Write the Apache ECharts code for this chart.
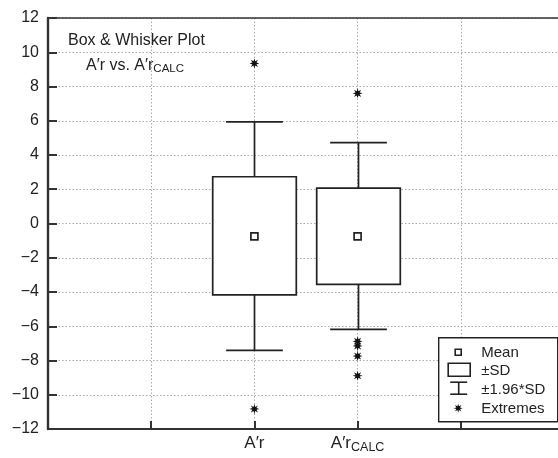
<!DOCTYPE html>
<html>
<head>
<meta charset="utf-8">
<script src="https://cdn.jsdelivr.net/npm/echarts@6/dist/echarts.min.js"></script>
<style>
  html, body { margin: 0; padding: 0; background: #fff; }
  #chart { width: 558px; height: 458px; }
</style>
</head>
<body>
<div id="chart"></div>
<script>
// Category slots along the x axis; the two variables sit on slots 2 and 3.
const categories = ['', '', 'Ar', 'ArCALC', '', ''];
const variableSlots = [2, 3];

// Per-variable summary statistics
const means = [-0.75, -0.75];
const sdLow = [-4.17, -3.55];      // mean - SD
const sdHigh = [2.73, 2.07];       // mean + SD
const ciLow = [-7.41, -6.18];      // mean - 1.96*SD
const ciHigh = [5.93, 4.72];       // mean + 1.96*SD

// Extreme observations per variable
const extremesAr = [9.35, -10.83];
const extremesCalc = [7.6, -6.88, -7.15, -7.74, -8.89];

// Y axis ticks
const yMin = -12, yMax = 12, yStep = 2;

const FONT = '"Liberation Sans", Arial, sans-serif';
const INK = '#222';

// 8-pointed asterisk used for the extreme values
function starPoints(points, rOut, rIn) {
  const pts = [];
  for (let i = 0; i < points * 2; i++) {
    const r = i % 2 === 0 ? rOut : rIn;
    const a = Math.PI * i / points - Math.PI / 2;
    pts.push([r * Math.cos(a), r * Math.sin(a)]);
  }
  return pts;
}
const STAR_PTS = starPoints(8, 10, 4.5);
const STAR = 'path://' + STAR_PTS.map((p, i) => (i ? 'L' : 'M') + p[0].toFixed(3) + ' ' + p[1].toFixed(3)).join(' ') + ' Z';

const boxData = variableSlots.map((s, i) => [s, ciLow[i], sdLow[i], sdHigh[i], ciHigh[i]]);
const meanData = variableSlots.map((s, i) => [s, means[i]]);
const extremeData = extremesAr.map(v => [variableSlots[0], v])
  .concat(extremesCalc.map(v => [variableSlots[1], v]));

function renderBox(params, api) {
  const x = api.value(0);
  const unit = api.size([1, 0])[0];
  const boxW = unit * 0.81;
  const capW = unit * 0.55;
  const pWL = api.coord([x, api.value(1)]);
  const pBL = api.coord([x, api.value(2)]);
  const pBH = api.coord([x, api.value(3)]);
  const pWH = api.coord([x, api.value(4)]);
  const cx = Math.round(pWL[0]) + 0.5;
  const st = { stroke: INK, lineWidth: 1.7, fill: null };
  return {
    type: 'group',
    children: [
      { type: 'line', shape: { x1: cx, y1: pWH[1], x2: cx, y2: pBH[1] }, style: st },
      { type: 'line', shape: { x1: cx, y1: pBL[1], x2: cx, y2: pWL[1] }, style: st },
      { type: 'line', shape: { x1: cx - capW / 2, y1: pWH[1], x2: cx + capW / 2, y2: pWH[1] }, style: st },
      { type: 'line', shape: { x1: cx - capW / 2, y1: pWL[1], x2: cx + capW / 2, y2: pWL[1] }, style: st },
      { type: 'rect', shape: { x: cx - boxW / 2, y: pBH[1], width: boxW, height: pBL[1] - pBH[1] },
        style: { stroke: INK, lineWidth: 1.7, fill: '#fff' } }
    ]
  };
}

const chart = echarts.init(document.getElementById('chart'), null, { renderer: 'canvas' });

const gridDotted = { show: true, lineStyle: { color: '#aaa', type: [1.5, 2], width: 1 } };

const option = {
  animation: false,
  backgroundColor: '#fff',
  grid: { left: 48, top: 18, right: -6, height: 411, containLabel: false, outerBoundsMode: 'none' },
  xAxis: [{
    type: 'category',
    data: categories,
    boundaryGap: false,
    axisLine: { show: true, onZero: false, lineStyle: { color: '#333', width: 2 } },
    axisTick: { show: true, inside: true, length: 8, interval: 0, lineStyle: { color: '#333', width: 2 } },
    splitLine: Object.assign({ interval: 0 }, gridDotted),
    axisLabel: {
      interval: 0,
      margin: 4,
      formatter: function (v) {
        if (v === 'Ar') return '{m|A′r}';
        if (v === 'ArCALC') return '{m|A′r}{s|CALC}';
        return '';
      },
      rich: {
        m: { fontFamily: FONT, fontSize: 17, color: INK, lineHeight: 20 },
        s: { fontFamily: FONT, fontSize: 12.5, color: INK, padding: [9, 0, 0, 0], lineHeight: 20 }
      }
    }
  }, {
    type: 'category',
    data: categories,
    position: 'top',
    boundaryGap: false,
    axisLine: { show: true, onZero: false, lineStyle: { color: '#333', width: 1.6 } },
    axisTick: { show: false },
    axisLabel: { show: false },
    splitLine: { show: false }
  }],
  yAxis: {
    type: 'value',
    min: yMin,
    max: yMax,
    interval: yStep,
    axisLine: { show: true, lineStyle: { color: '#333', width: 2.4 } },
    axisTick: { show: true, inside: true, length: 9, lineStyle: { color: '#333', width: 2 } },
    splitLine: gridDotted,
    axisLabel: {
      margin: 9,
      fontFamily: FONT,
      fontSize: 16,
      color: INK,
      formatter: v => String(v).replace('-', '−')
    }
  },
  series: [
    {
      type: 'custom',
      name: 'box',
      renderItem: renderBox,
      data: boxData,
      encode: { x: 0, y: [1, 2, 3, 4] },
      z: 2
    },
    {
      type: 'scatter',
      name: 'Mean',
      data: meanData,
      symbol: 'rect',
      symbolSize: 7,
      itemStyle: { color: '#fff', borderColor: INK, borderWidth: 1.7, opacity: 1 },
      z: 5
    },
    {
      type: 'scatter',
      name: 'Extremes',
      data: extremeData,
      symbol: STAR,
      symbolSize: 10,
      itemStyle: { color: '#111', opacity: 1 },
      z: 5
    }
  ],
  graphic: [
    // Plot title
    {
      type: 'text', left: 68, top: 33,
      style: { text: 'Box & Whisker Plot', font: '16px ' + FONT, fill: INK }
    },
    {
      type: 'text', left: 86, top: 56,
      style: {
        text: '{m|A′r vs. A′r}{s|CALC}',
        rich: {
          m: { font: '16px ' + FONT, fill: INK, lineHeight: 18 },
          s: { font: '11.5px ' + FONT, fill: INK, padding: [7, 0, 0, 0], lineHeight: 18 }
        }
      }
    },
    // Legend
    {
      type: 'group', left: 438, top: 337,
      children: [
        { type: 'rect', shape: { x: 0.5, y: 0.5, width: 119, height: 84 },
          style: { fill: '#fff', stroke: INK, lineWidth: 1.4 }, z: 10 },
        { type: 'rect', shape: { x: 17, y: 12, width: 6, height: 6 },
          style: { fill: '#fff', stroke: INK, lineWidth: 1.6 }, z: 11 },
        { type: 'text', x: 43, y: 15.5, style: { text: 'Mean', font: '15px ' + FONT, fill: INK, verticalAlign: 'middle' }, z: 11 },
        { type: 'rect', shape: { x: 10, y: 26, width: 22, height: 13 },
          style: { fill: '#fff', stroke: INK, lineWidth: 1.6 }, z: 11 },
        { type: 'text', x: 43, y: 34, style: { text: '±SD', font: '15px ' + FONT, fill: INK, verticalAlign: 'middle' }, z: 11 },
        { type: 'line', shape: { x1: 12, y1: 45, x2: 29, y2: 45 }, style: { stroke: INK, lineWidth: 1.6 }, z: 11 },
        { type: 'line', shape: { x1: 20.5, y1: 45, x2: 20.5, y2: 57 }, style: { stroke: INK, lineWidth: 1.6 }, z: 11 },
        { type: 'line', shape: { x1: 12, y1: 57, x2: 29, y2: 57 }, style: { stroke: INK, lineWidth: 1.6 }, z: 11 },
        { type: 'text', x: 43, y: 53, style: { text: '±1.96*SD', font: '15px ' + FONT, fill: INK, verticalAlign: 'middle' }, z: 11 },
        { type: 'polygon', shape: { points: STAR_PTS.map(p => [20 + p[0] * 0.45, 71 + p[1] * 0.45]) },
          style: { fill: '#111' }, z: 11 },
        { type: 'text', x: 43, y: 72, style: { text: 'Extremes', font: '15px ' + FONT, fill: INK, verticalAlign: 'middle' }, z: 11 }
      ]
    }
  ]
};

chart.setOption(option);
</script>
</body>
</html>
